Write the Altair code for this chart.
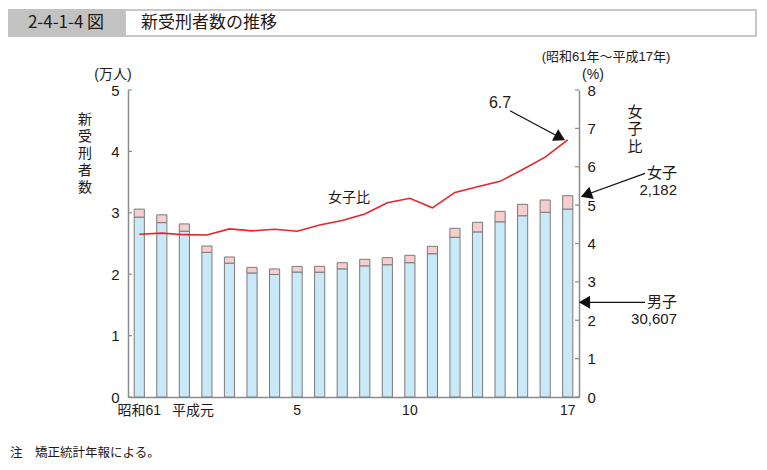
import altair as alt
import pandas as pd

# ---- data ----
years = ["昭和61", "62", "63", "平成元"] + [str(i) for i in range(2, 18)]
male = [29300, 28400, 27000, 23550, 21800, 20200, 19950, 20350, 20330, 20870,
        21360, 21540, 21880, 23330, 26010, 26890, 28530, 29520, 30080, 30607]
female = [1300, 1270, 1190, 1040, 1000, 910, 910, 920, 950, 1000,
          1070, 1150, 1195, 1210, 1460, 1560, 1706, 1860, 2005, 2182]
ratio = [4.24, 4.27, 4.23, 4.22, 4.38, 4.33, 4.37, 4.32, 4.48, 4.60,
         4.77, 5.06, 5.18, 4.93, 5.33, 5.48, 5.62, 5.93, 6.25, 6.7]
shown_labels = ["昭和61", "平成元", "5", "10", "17"]
left_ticks = [0, 1, 2, 3, 4, 5]
right_ticks = [0, 1, 2, 3, 4, 5, 6, 7, 8]

# ---- styles ----
FONT = "Liberation Sans, Noto Sans CJK JP, sans-serif"
JFONT = "Noto Sans CJK JP, sans-serif"
TXT = "#231815"
AX = "#8c8c8c"
BLUE = "#c9e9f8"
PINK = "#f8cdcd"
RED = "#e8242a"
W, H = 451, 307

bar_df = pd.DataFrame({
    "year": years * 2,
    "sex": ["男子"] * len(years) + ["女子"] * len(years),
    "ord": [0] * len(years) + [1] * len(years),
    "v": [m / 10000 for m in male] + [f / 10000 for f in female],
})
line_df = pd.DataFrame({"year": years, "r": ratio})
lt_df = pd.DataFrame({"v": left_ticks})
rt_df = pd.DataFrame({"r": right_ticks})

label_expr = "indexof(" + str(shown_labels) + ", datum.value) >= 0 ? datum.value : ''"

x_enc = alt.X(
    "year:N", sort=years,
    scale=alt.Scale(paddingInner=0.55, paddingOuter=0.275),
    axis=alt.Axis(title=None, labelExpr=label_expr, labelAngle=0, ticks=False,
                  labelPadding=6, labelFontSize=14, labelFont=FONT, labelColor=TXT,
                  domainColor=AX, domainWidth=1.5,
                  labelOffset={"condition": {"test": "datum.value == '平成元'", "value": -14}, "value": 0}),
)

left_axis = alt.Axis(orient="left", title=None, values=left_ticks, ticks=False,
                     labelPadding=9, grid=False, labelFontSize=15, labelFont=FONT,
                     labelColor=TXT, domainColor=AX, domainWidth=1.5)
right_axis = alt.Axis(orient="right", title=None, values=right_ticks, ticks=False,
                      labelPadding=8, grid=False, labelFontSize=15, labelFont=FONT,
                      labelColor=TXT, domainColor=AX, domainWidth=1.5)

bars = alt.Chart(bar_df).mark_bar(stroke="#7a7a7a", strokeWidth=1).encode(
    x=x_enc,
    y=alt.Y("v:Q", stack="zero", scale=alt.Scale(domain=[0, 5], nice=False), axis=left_axis),
    color=alt.Color("sex:N", scale=alt.Scale(domain=["男子", "女子"], range=[BLUE, PINK]), legend=None),
    order=alt.Order("ord:Q"),
)
lticks = alt.Chart(lt_df).mark_rule(color=AX, strokeWidth=1.2).encode(
    x=alt.value(0), x2=alt.value(4),
    y=alt.Y("v:Q", scale=alt.Scale(domain=[0, 5], nice=False), axis=left_axis),
)

line = alt.Chart(line_df).mark_line(color=RED, strokeWidth=1.6).encode(
    x=alt.X("year:N", sort=years),
    y=alt.Y("r:Q", scale=alt.Scale(domain=[0, 8], nice=False), axis=right_axis),
)
rticks = alt.Chart(rt_df).mark_rule(color=AX, strokeWidth=1.2).encode(
    x=alt.value(W - 4), x2=alt.value(W),
    y=alt.Y("r:Q", scale=alt.Scale(domain=[0, 8], nice=False), axis=right_axis),
)

one = pd.DataFrame({"k": [0]})


def text(s, x, y, size=15, align="center", font=FONT, weight="normal"):
    return alt.Chart(one).mark_text(text=s, fontSize=size, align=align, baseline="middle",
                                    font=font, color=TXT, fontWeight=weight).encode(
        x=alt.value(x), y=alt.value(y))


def vtext(chars, x, y0, step, size=15):
    return [text(c, x, y0 + i * step, size=size, font=JFONT) for i, c in enumerate(chars)]


def rule(x1, y1, x2, y2):
    return alt.Chart(one).mark_rule(color="#111", strokeWidth=1.3).encode(
        x=alt.value(x1), y=alt.value(y1), x2=alt.value(x2), y2=alt.value(y2))


def head(x, y, ang):
    return alt.Chart(one).mark_point(shape="triangle", filled=True, size=170, angle=ang,
                                     color="#111", opacity=1).encode(
        x=alt.value(x), y=alt.value(y))


def rect(x1, y1, x2, y2, fill, stroke=None):
    kw = dict(fill=fill)
    if stroke:
        kw.update(stroke=stroke, strokeWidth=2)
    return alt.Chart(one).mark_rect(**kw).encode(
        x=alt.value(x1), x2=alt.value(x2), y=alt.value(y1), y2=alt.value(y2))


annots = [
    # title bar
    rect(-3, -80, 628, -54, "#ffffff", "#c8c8c8"),
    rect(-120, -81, -3, -53, "#c2c2c2"),
    text("2-4-1-4 図", -62, -67, size=17, font=JFONT),
    text("新受刑者数の推移", 13, -67, size=17, align="left", font=JFONT),
    # axis titles
    text("(万人)", -15, -15, size=14),
    *vtext("新受刑者数", -43, 30, 17, size=14),
    text("(昭和61年～平成17年)", 478, -33, size=13),
    text("(%)", 465, -15, size=14),
    *vtext("女子比", 507, 21.7, 17.5),
    # series annotations
    text("女子比", 221, 108, size=14, font=JFONT),
    text("6.7", 372, 13, size=16),
    rule(382, 20.7, 435.3, 49.3),
    head(430.4, 46.7, 118.2),
    text("女子", 549, 83, size=15, align="right"),
    text("2,182", 549, 100, size=15, align="right"),
    rule(517, 83.3, 456, 105.5),
    head(460, 104.1, 250),
    text("男子", 549, 211.7, size=15, align="right"),
    text("30,607", 549, 229.3, size=15, align="right"),
    rule(517, 212.3, 456, 212.3),
    head(458.3, 212.3, 270),
    # footnote
    text("注　矯正統計年報による。", -118, 363, size=12.5, align="left", font=JFONT),
]

chart = alt.layer(
    alt.layer(bars, lticks),
    alt.layer(line, rticks),
    *annots,
).resolve_scale(y="independent").properties(
    width=W, height=H,
    padding={"left": 128, "top": 90, "right": 188, "bottom": 73},
    autosize=alt.AutoSizeParams(type="none"),
).configure_view(strokeWidth=0)

chart.save("out.html", embed_options={"renderer": "svg", "actions": False})
